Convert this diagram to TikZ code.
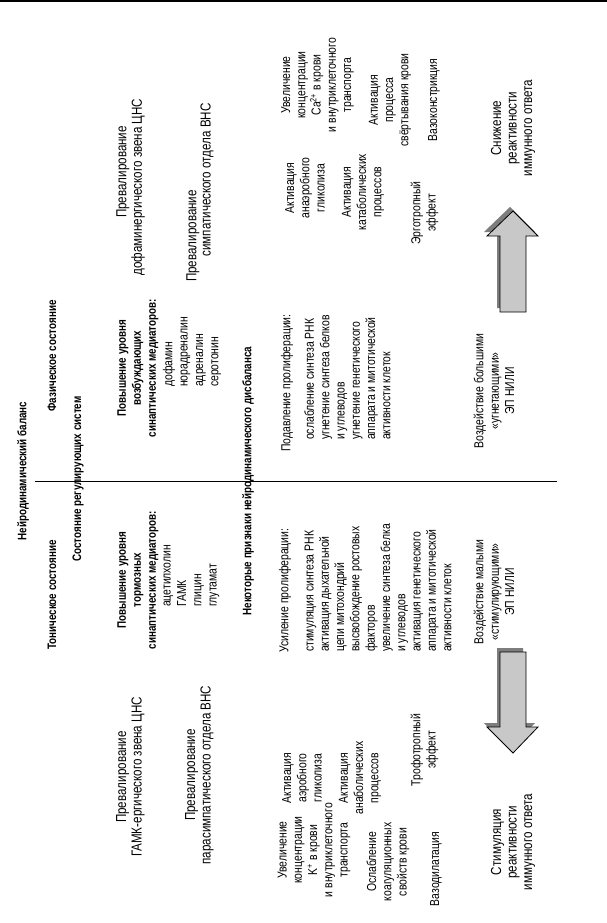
\documentclass[tikz,border=0pt]{standalone}
\usepackage{fontspec}
\setmainfont{Liberation Sans}[FakeStretch=0.80]
\definecolor{arrowgray}{RGB}{200,200,200}
\definecolor{shadowgray}{RGB}{125,125,125}
\begin{document}
\begin{tikzpicture}[x=1pt,y=-1pt,
  txt/.style={rotate=90, inner sep=0pt, align=center, font=\fontsize{13}{15.3}\selectfont},
  big/.style={txt, font=\fontsize{14.5}{15.5}\selectfont},
  bld/.style={txt, font=\bfseries\fontsize{12.3}{15}\selectfont},
  lst/.style={txt, align=left, anchor=west},
  arrowbody/.style={fill=arrowgray, draw=black, line width=0.8pt},
  arrowshadow/.style={fill=shadowgray},
  rule/.style={draw=black, line width=0.8pt}]
\fill[white] (0,0) rectangle (607,923);
\useasboundingbox (0,0) rectangle (607,923);
% header rule
\coordinate (hr1) at (0,1); \coordinate (hr2) at (607,1);
\draw[line width=2.5pt] (hr1) -- (hr2);
% divider
\coordinate (d1) at (35,481); \coordinate (d2) at (557,481);
\draw[rule] (d1) -- (d2);

% headings
\node[bld] (title) at (23,471) {Нейродинамический баланс};
\node[bld] (tonic) at (52,595) {Тоническое состояние};
\node[bld] (phasic) at (52,356) {Фазическое состояние};
\node[bld] (regsys) at (78,479) {Состояние регулирующих систем};
\node[bld] (inhib) at (138,580) {Повышение уровня\\тормозных\\синаптических медиаторов:};
\node[bld] (excit) at (138,368) {Повышение уровня\\возбуждающих\\синаптических медиаторов:};
\node[bld] (signs) at (248,481) {Некоторые признаки нейродинамического дисбаланса};

% mediator lists
\node[lst] (inhlist) at (191.5,607) {ацетилхолин\\ГАМК\\глицин\\глутамат};
\node[lst] (exclist) at (192,387) {дофамин\\норадреналин\\адреналин\\серотонин};

% proliferation lists
\node[lst] (prolup) at (285,653) {Усиление пролиферации:};
\node[lst] (prolupl) at (378,652) {стимуляция синтеза РНК\\активация дыхательной\\цепи митохондрий\\высвобождение ростовых\\факторов\\увеличение синтеза белка\\и углеводов\\активация генетического\\аппарата и митотической\\активности клеток};
\node[lst] (proldn) at (287,452) {Подавление пролиферации:};
\node[lst] (proldnl) at (347.5,440) {ослабление синтеза РНК\\угнетение синтеза белков\\и углеводов\\угнетение генетического\\аппарата и митотической\\активности клеток};

% prevalence texts
\node[big] (dop1) at (123,172) {Превалирование};
\node[big] (dop2) at (138,187) {дофаминергического звена ЦНС};
\node[big] (sym1) at (193,236) {Превалирование};
\node[big] (sym2) at (207,180) {симпатического отдела ВНС};
\node[big] (gaba) at (130.5,777) {Превалирование\\ГАМК-ергического звена ЦНС};
\node[big] (para) at (199.5,775) {Превалирование\\парасимпатического отдела ВНС};

% phasic effects (top)
\node[txt] (ca) at (317.5,85) {Увеличение\\концентрации\\Ca\textsuperscript{2+} в крови\\и внутриклеточного\\транспорта};
\node[txt] (coag) at (390,100) {Активация\\процесса\\свёртывания крови};
\node[txt] (vcon) at (434,100) {Вазоконстрикция};
\node[txt] (anaer) at (305,188) {Активация\\анаэробного\\гликолиза};
\node[txt] (catab) at (363,192) {Активация\\катаболических\\процессов};
\node[txt] (ergo) at (424.5,213) {Эрготропный\\эффект};

% tonic effects (bottom)
\node[txt] (kplus) at (314,850) {Увеличение\\концентрации\\K\textsuperscript{+} в крови\\и внутриклеточного\\транспорта};
\node[txt] (weak) at (388,862) {Ослабление\\коагуляционных\\свойств крови};
\node[txt] (vdil) at (436,869) {Вазодилатация};
\node[txt] (aer) at (302,778) {Активация\\аэробного\\гликолиза};
\node[txt] (anab) at (360,778) {Активация\\анаболических\\процессов};
\node[txt] (tropho) at (424.5,750) {Трофотропный\\эффект};

% arrow texts
\node[big] (suppr) at (513,128) {Снижение\\реактивности\\иммунного ответа};
\node[big] (stim) at (513,842) {Стимуляция\\реактивности\\иммунного ответа};
\node[txt] (bigdose) at (494,391) {Воздействие большими\\«угнетающими»\\ЭП НИЛИ};
\node[txt] (smalldose) at (494,592) {Воздействие малыми\\«стимулирующими»\\ЭП НИЛИ};

% block arrow up (phasic)
\begin{scope}[shift={(-3,-4)}]
\fill[arrowshadow] (500,312) -- (526,312) -- (526,236) -- (538,236) -- (513,211) -- (487,236) -- (500,236) -- cycle;
\end{scope}
\draw[arrowbody] (500,312) -- (526,312) -- (526,236) -- (538,236) -- (513,211) -- (487,236) -- (500,236) -- cycle;
% block arrow down (tonic)
\begin{scope}[shift={(-3,-4)}]
\fill[arrowshadow] (500,652) -- (526,652) -- (526,727) -- (538,727) -- (513,753) -- (487,727) -- (500,727) -- cycle;
\end{scope}
\draw[arrowbody] (500,652) -- (526,652) -- (526,727) -- (538,727) -- (513,753) -- (487,727) -- (500,727) -- cycle;
\end{tikzpicture}
\end{document}
